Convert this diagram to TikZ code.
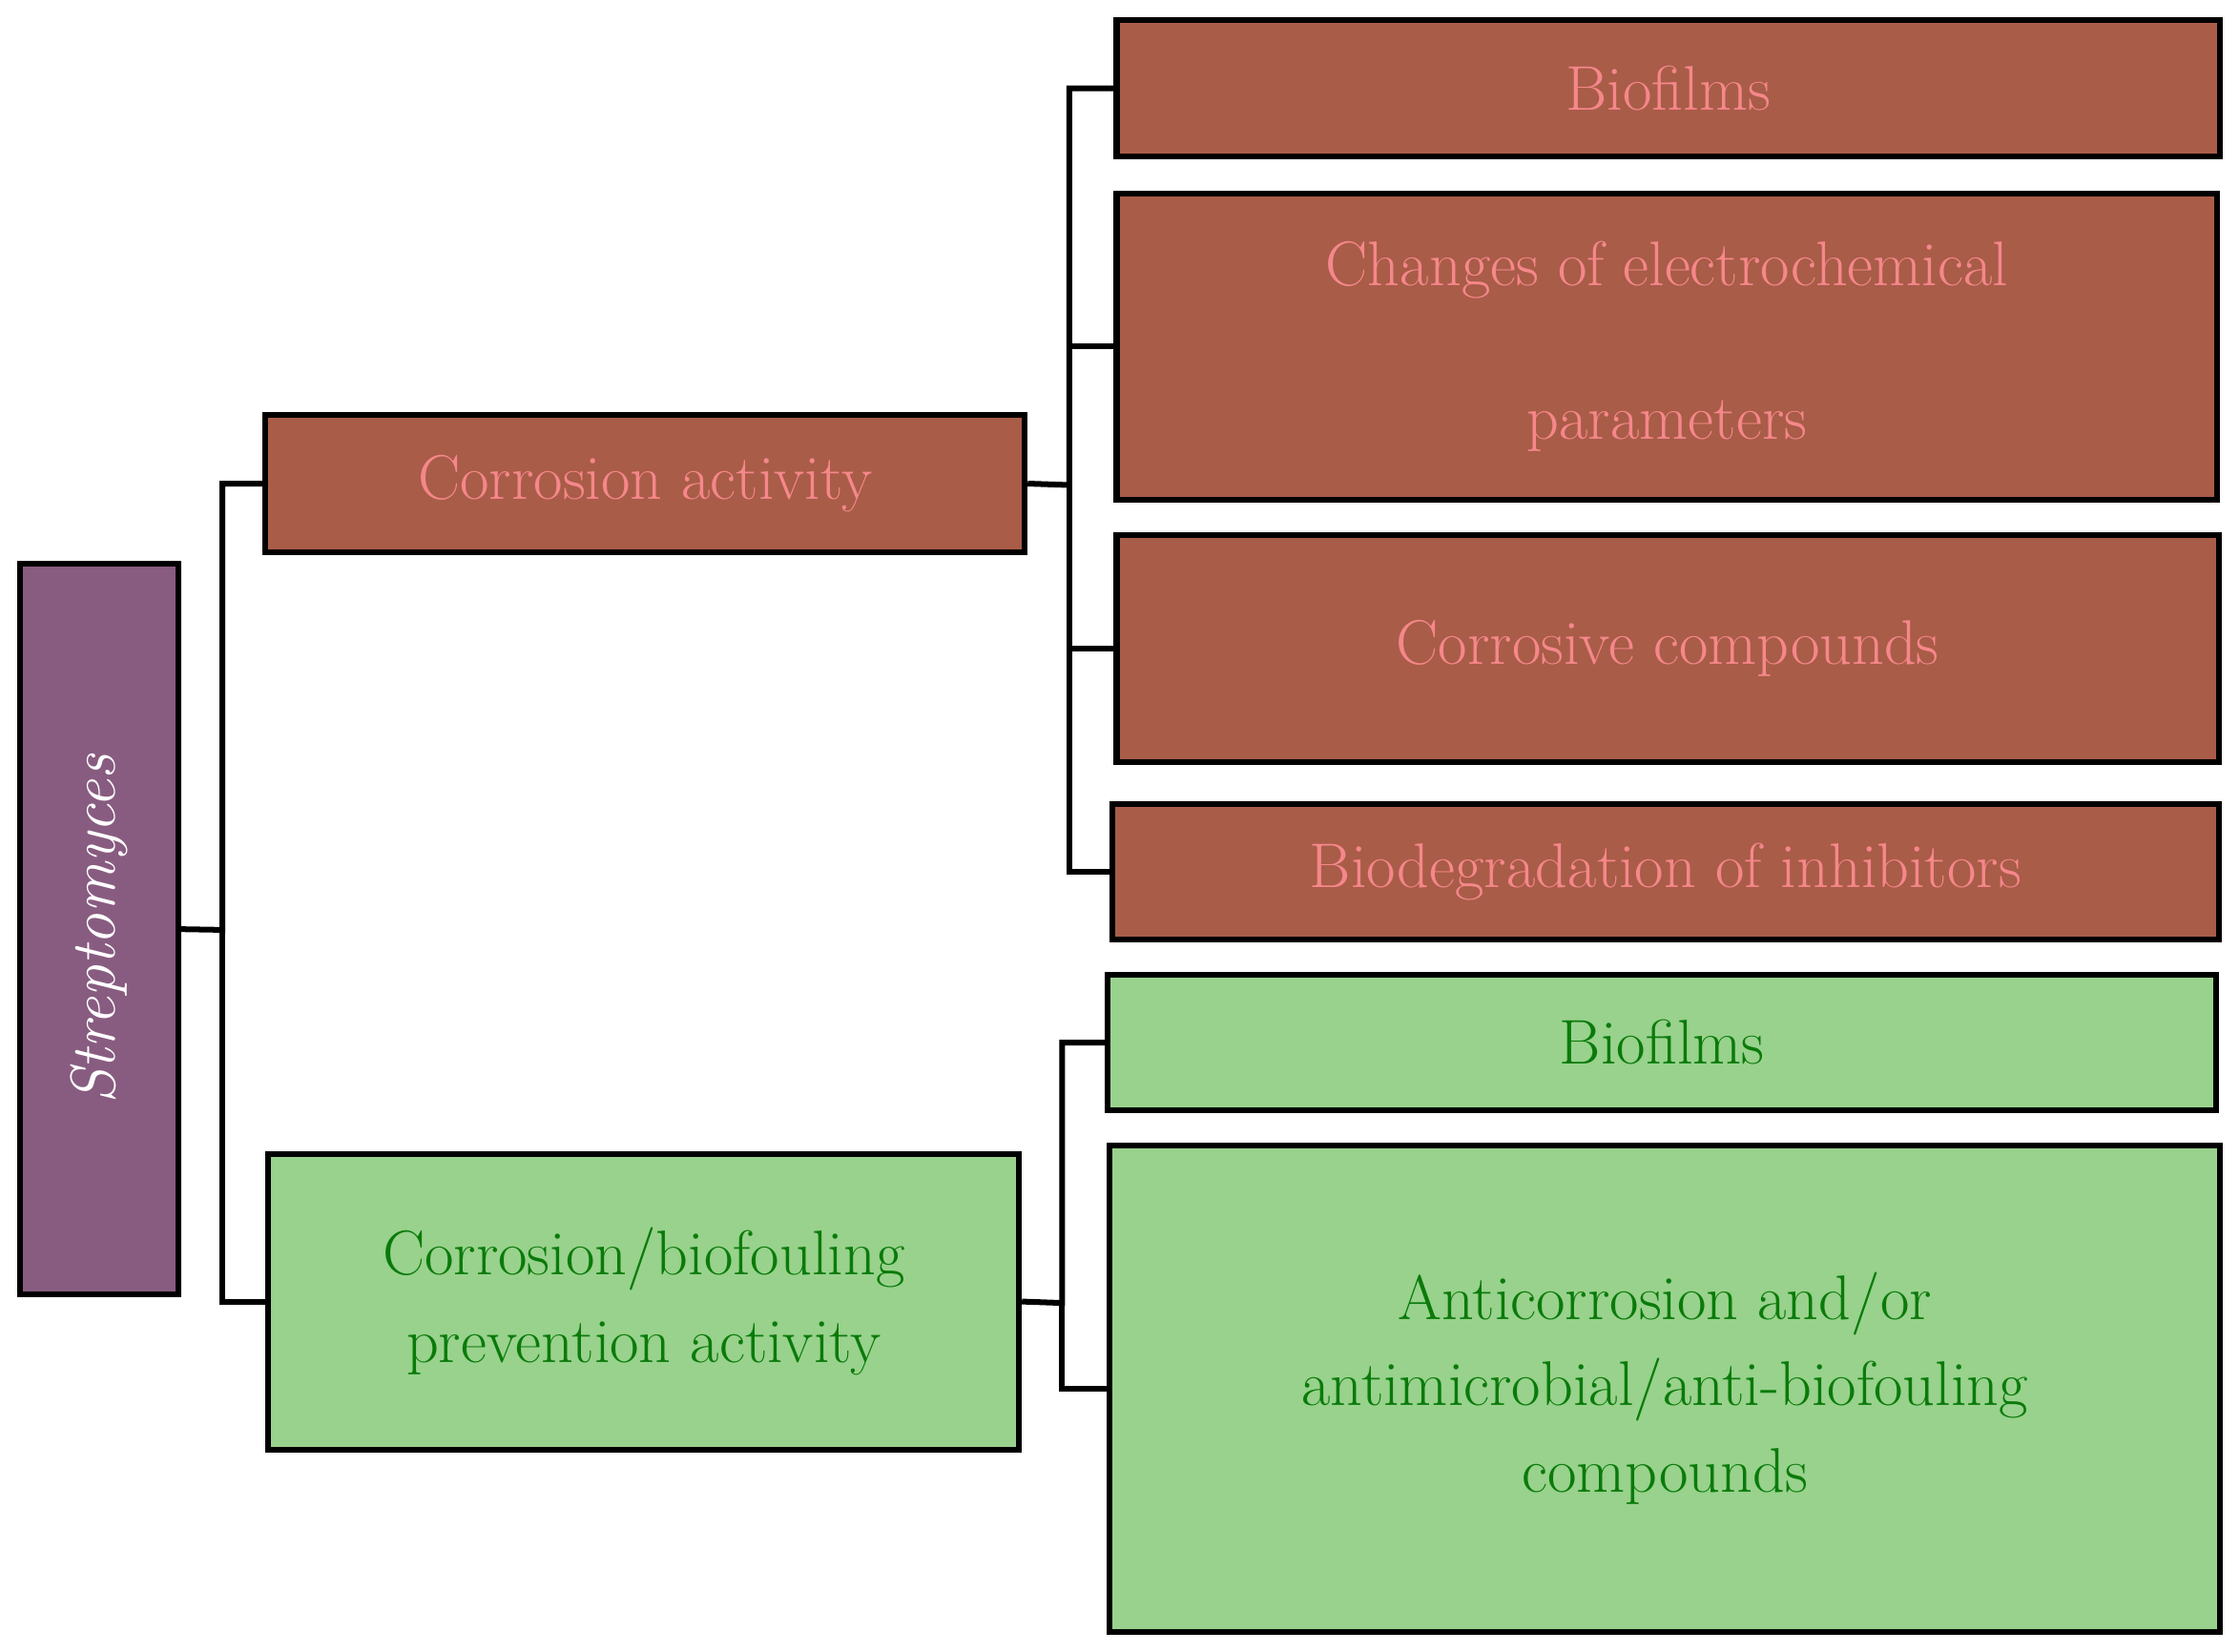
\documentclass[tikz,border=0pt]{standalone}
\begin{document}
\begin{tikzpicture}[x=0.5pt,y=-0.5pt,
 box/.style={draw=black,line width=2pt,inner sep=0pt,align=center,font=\fontsize{22}{30}\selectfont},
 br/.style={box,fill=brownbox,text=pinktext},
 gr/.style={box,fill=greenbox,text=greentext},
 ln/.style={line width=2pt}]
\definecolor{brownbox}{HTML}{A95C48}
\definecolor{pinktext}{HTML}{F5878A}
\definecolor{greenbox}{HTML}{98D28C}
\definecolor{greentext}{HTML}{0A7A0A}
\definecolor{purplebox}{HTML}{885C80}
\useasboundingbox (0,0) rectangle (1560,1151);
\node[box,fill=purplebox,text=white,minimum width=55pt,minimum height=254.5pt,rotate=90,font=\fontsize{22}{26}\selectfont\itshape,minimum width=254.5pt,minimum height=55pt] (s) at (69,647.5) {Streptomyces};
\node[br,minimum width=264.5pt,minimum height=48pt] (ca) at (449.5,337) {Corrosion activity};
\node[gr,minimum width=261.5pt,minimum height=103pt,font=\fontsize{22}{30.5}\selectfont] (pa) at (448.5,907) {Corrosion/biofouling\\prevention activity};
\node[br,minimum width=384.5pt,minimum height=47.5pt] (b1) at (1162.5,61.5) {Biofilms};
\node[br,minimum width=383.5pt,minimum height=106.5pt,font=\fontsize{22}{53.5}\selectfont] (b2) at (1161.5,241.5) {Changes of electrochemical\\parameters};
\node[br,minimum width=384pt,minimum height=79pt] (b3) at (1162,452) {Corrosive compounds};
\node[br,minimum width=385.5pt,minimum height=47.5pt] (b4) at (1160.5,607.5) {Biodegradation of inhibitors};
\node[gr,minimum width=386pt,minimum height=47.5pt] (g1) at (1158,726.5) {Biofilms};
\node[gr,minimum width=387pt,minimum height=169.5pt] (g2) at (1160,967.5) {Anticorrosion and/or\\antimicrobial/anti-biofouling\\compounds};
\coordinate (j1) at (155,648);
\coordinate (j2) at (745,338);
\coordinate (j3) at (740,908);
\draw[ln] (s.south) -- (j1) |- (ca.west);
\draw[ln] (j1) |- (pa.west);
\draw[ln] (ca.east) -- (j2) |- (b1.west);
\draw[ln] (j2) |- (b2.west);
\draw[ln] (j2) |- (b3.west);
\draw[ln] (j2) |- (b4.west);
\draw[ln] (pa.east) -- (j3) |- (g1.west);
\draw[ln] (j3) |- (g2.west);
\end{tikzpicture}
\end{document}
